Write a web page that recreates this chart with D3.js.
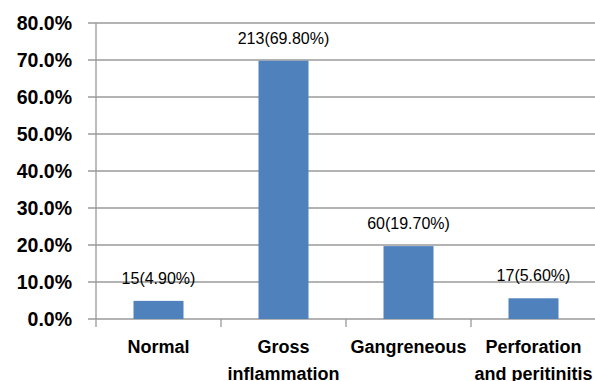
<!DOCTYPE html>
<html><head><meta charset="utf-8">
<script src="https://cdn.jsdelivr.net/npm/d3@7"></script>
<style>html,body{margin:0;padding:0;background:#fff;overflow:hidden}</style>
</head><body>
<svg id="chart" width="595" height="381"></svg>
<script>
const categories = ["Normal", "Gross inflammation", "Gangreneous", "Perforation and peritinitis"];
const counts = [15, 213, 60, 17];
const percents = [4.9, 69.8, 19.7, 5.6];
const yTicks = [0, 10, 20, 30, 40, 50, 60, 70, 80];

(function () {
const svg = d3.select("#chart");
const mLeft = 96, mRight = 596, mTop = 23, mBottom = 319;
const gridColor = "#9a9a9a";

const y = d3.scaleLinear().domain([0, 80]).range([mBottom, mTop]);
const xCat = d3.scaleBand().domain(categories).range([mLeft, mRight]).padding(0);
const xBar = d3.scaleBand().domain(categories).range([mLeft, mRight]).paddingInner(0.6).paddingOuter(0.3);

svg.append("g").selectAll("line").data(yTicks).join("line")
  .attr("x1", mLeft - 8).attr("x2", 595)
  .attr("y1", d => y(d)).attr("y2", d => y(d))
  .attr("stroke", gridColor).attr("stroke-width", 1.3);

svg.append("line").attr("x1", mLeft).attr("x2", mLeft)
  .attr("y1", y(80)).attr("y2", mBottom + 8)
  .attr("stroke", gridColor).attr("stroke-width", 1.3);

svg.append("g").selectAll("line").data(categories.slice(1)).join("line")
  .attr("x1", d => xCat(d)).attr("x2", d => xCat(d))
  .attr("y1", mBottom).attr("y2", mBottom + 8)
  .attr("stroke", gridColor).attr("stroke-width", 1.3);

svg.append("g").selectAll("text").data(yTicks).join("text")
  .attr("x", 72).attr("y", d => y(d)).attr("dy", "0.36em")
  .attr("text-anchor", "end")
  .attr("font-family", "'Liberation Sans', Arial, sans-serif")
  .attr("font-weight", "bold").attr("font-size", 19.5).attr("fill", "#000")
  .text(d => d.toFixed(1) + "%");

svg.append("g").selectAll("rect").data(categories).join("rect")
  .attr("x", d => xBar(d)).attr("width", xBar.bandwidth())
  .attr("y", (d, i) => y(percents[i]))
  .attr("height", (d, i) => mBottom - y(percents[i]))
  .attr("fill", "#4F81BD");

svg.append("g").selectAll("text").data(categories).join("text")
  .attr("x", d => xBar(d) + xBar.bandwidth() / 2)
  .attr("y", (d, i) => y(percents[i]) - 17)
  .attr("text-anchor", "middle")
  .attr("font-family", "'Liberation Sans', Arial, sans-serif")
  .attr("font-size", 16).attr("fill", "#000")
  .text((d, i) => `${counts[i]}(${percents[i].toFixed(2)}%)`);

const xl = svg.append("g").selectAll("text").data(categories).join("text")
  .attr("x", d => xCat(d) + xCat.bandwidth() / 2)
  .attr("y", 353)
  .attr("text-anchor", "middle")
  .attr("font-family", "'Liberation Sans', Arial, sans-serif")
  .attr("font-weight", "bold").attr("font-size", 18).attr("fill", "#000");

xl.each(function (d) {
  const t = d3.select(this);
  const words = d.split(" ");
  const maxW = xCat.bandwidth();
  let line = [], lines = [];
  const probe = t.append("tspan");
  words.forEach(w => {
    const test = line.concat([w]).join(" ");
    probe.text(test);
    if (probe.node().getComputedTextLength() > maxW && line.length) {
      lines.push(line.join(" "));
      line = [w];
    } else line.push(w);
  });
  lines.push(line.join(" "));
  probe.remove();
  const cx = t.attr("x");
  lines.forEach((l, i) => {
    t.append("tspan").attr("x", cx).attr("dy", i === 0 ? 0 : 27).text(l);
  });
});
})();
</script>
</body></html>
